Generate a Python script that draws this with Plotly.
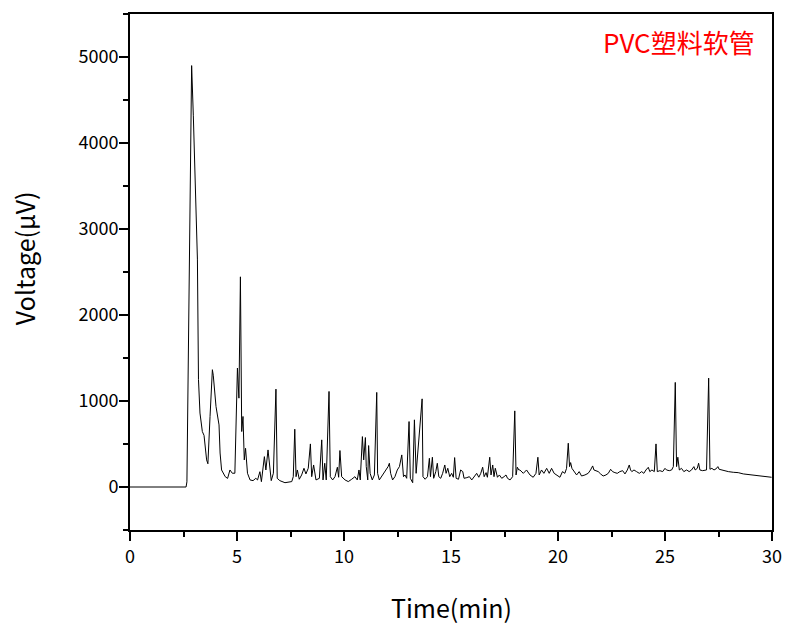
import plotly.graph_objects as go

# 保留时间 (min) 和 信号 (µV)
t_a = [0, 2.62, 2.66, 2.88, 2.96, 3.07, 3.15, 3.20, 3.27, 3.38, 3.46, 3.58, 3.64, 3.74, 3.85, 3.89,
       4.02, 4.16, 4.21, 4.28, 4.45, 4.56, 4.67, 4.78, 4.90, 5.02, 5.09, 5.16, 5.22, 5.28, 5.34, 5.40,
       5.49, 5.61, 5.75, 5.88, 5.96, 6.07, 6.14, 6.28, 6.35, 6.45, 6.52, 6.60, 6.70, 6.82, 6.88, 7.00]
v_a = [0, 0, 60, 4900, 4316, 3345, 2650, 1250, 860, 645, 600, 315, 270, 820, 1364, 1300,
       935, 722, 395, 198, 120, 100, 198, 160, 160, 1383, 1033, 2444, 645, 820, 315, 450,
       160, 82, 74, 101, 82, 178, 62, 353, 198, 431, 237, 74, 160, 1138, 101, 74]

t_b = [7.24, 7.56, 7.63, 7.70, 7.76, 7.82, 7.91, 8.02, 8.13, 8.22, 8.33, 8.43, 8.49, 8.58, 8.69, 8.85,
       8.96, 9.02, 9.10, 9.17, 9.30, 9.36, 9.47, 9.58, 9.69, 9.75, 9.81, 9.89, 10.05, 10.20, 10.36, 10.51,
       10.62, 10.70, 10.76, 10.86, 10.92, 11.00, 11.04, 11.11, 11.15, 11.22, 11.32, 11.42, 11.53, 11.57,
       11.65, 11.76, 11.87, 11.96, 12.06, 12.12, 12.18, 12.27, 12.38, 12.49, 12.59]
v_b = [50, 63, 120, 672, 120, 198, 90, 140, 218, 152, 218, 501, 120, 256, 82, 101,
       548, 82, 276, 82, 1111, 120, 82, 120, 230, 113, 424, 120, 82, 63, 90, 120,
       82, 198, 82, 586, 315, 575, 237, 82, 482, 159, 82, 140, 1100, 159,
       82, 120, 159, 198, 237, 276, 159, 82, 120, 198, 237]

t_c = [12.70, 12.78, 12.85, 12.93, 13.04, 13.10, 13.21, 13.29, 13.37, 13.65, 13.69, 13.79, 13.90, 13.99,
       14.04, 14.13, 14.19, 14.29, 14.36, 14.43, 14.52, 14.61, 14.71, 14.77, 14.85, 14.94, 15.03, 15.11,
       15.17, 15.24, 15.35, 15.45, 15.55, 15.61, 15.74, 15.86, 15.97, 16.08, 16.20, 16.30, 16.39, 16.48,
       16.55, 16.64, 16.70, 16.81, 16.87, 16.95, 17.01, 17.07, 17.17, 17.26, 17.37, 17.48, 17.57, 17.64,
       17.76, 17.88, 17.98, 18.04, 18.10, 18.17]
v_c = [373, 120, 140, 101, 761, 101, 50, 781, 159, 1025, 120, 90, 120, 334,
       120, 346, 101, 179, 276, 120, 101, 159, 256, 159, 218, 120, 159, 113,
       342, 101, 90, 198, 179, 101, 109, 120, 82, 113, 159, 113, 159, 230,
       120, 167, 113, 346, 140, 256, 120, 218, 113, 140, 101, 120, 140, 101,
       82, 120, 885, 140, 230, 198]

t_d = [18.22, 18.38, 18.53, 18.69, 18.84, 18.97, 19.06, 19.12, 19.23, 19.34, 19.47, 19.59, 19.70, 19.82,
       19.96, 20.09, 20.21, 20.32, 20.40, 20.48, 20.54, 20.59, 20.65, 20.74, 20.87, 20.99, 21.10, 21.26,
       21.41, 21.52, 21.62, 21.68, 21.77, 21.88, 21.99, 22.11, 22.24, 22.35, 22.46, 22.55, 22.66, 22.77,
       22.89, 23.02, 23.13, 23.24, 23.33, 23.39, 23.45, 23.55, 23.67, 23.80, 23.91, 24.01, 24.11, 24.22,
       24.29, 24.39, 24.50, 24.58, 24.64, 24.76, 24.89, 25.00, 25.07, 25.20, 25.31, 25.39, 25.48, 25.54,
       25.60, 25.67, 25.77, 25.88, 26.01, 26.13, 26.24, 26.35, 26.41, 26.51, 26.57, 26.63, 26.76, 26.86,
       26.94, 27.04, 27.10, 27.19, 27.29, 27.38, 27.47, 27.53, 27.64, 27.80, 27.96, 28.19, 28.42, 28.66,
       28.97, 29.28, 29.59, 29.98]
v_d = [198, 159, 198, 140, 113, 159, 346, 140, 198, 159, 217, 159, 217, 159,
       140, 113, 179, 159, 217, 509, 237, 284, 217, 179, 140, 179, 128, 140,
       159, 198, 245, 198, 190, 179, 152, 128, 140, 159, 206, 179, 167, 159,
       179, 190, 152, 198, 256, 198, 179, 198, 179, 159, 179, 159, 198, 229,
       179, 198, 179, 501, 179, 190, 179, 217, 198, 190, 198, 237, 1216, 237,
       346, 198, 217, 179, 198, 179, 198, 237, 198, 217, 276, 198, 190, 198,
       198, 1266, 206, 217, 198, 210, 237, 206, 198, 190, 179, 171, 167, 152,
       144, 132, 128, 113]

time = t_a + t_b + t_c + t_d
voltage = v_a + v_b + v_c + v_d

font_name = "Noto Sans CJK SC"

fig = go.Figure()
fig.add_trace(go.Scatter(x=time, y=voltage, mode="lines",
                         line=dict(color="black", width=1), showlegend=False))

axis_common = dict(showline=True, linecolor="black", linewidth=2, mirror=True,
                   showgrid=False, zeroline=False, ticks="outside", ticklen=9,
                   tickwidth=1.5, tickcolor="black", automargin=False,
                   tickfont=dict(family=font_name, size=18, color="black"))

fig.update_xaxes(range=[0, 30], dtick=5,
                 minor=dict(ticks="outside", dtick=2.5, ticklen=5, tickcolor="black", showgrid=False),
                 **axis_common)
fig.update_yaxes(range=[-500, 5500], dtick=1000, ticklabelstandoff=-3,
                 minor=dict(ticks="outside", dtick=500, ticklen=5, tickcolor="black", showgrid=False),
                 **axis_common)

# 坐标轴标题用注释放置
fig.add_annotation(text="Time(min)", xref="paper", yref="paper", x=0.5, y=-0.150,
                   xanchor="center", yanchor="middle", showarrow=False,
                   font=dict(family=font_name, size=25, color="black"))
fig.add_annotation(text="Voltage(µV)", xref="paper", yref="paper", x=-0.165, y=0.527,
                   xanchor="center", yanchor="middle", showarrow=False, textangle=-90,
                   font=dict(family=font_name, size=25, color="black"))

fig.add_annotation(text="PVC塑料软管", xref="paper", yref="paper", x=0.977, y=0.946,
                   xanchor="right", yanchor="middle", showarrow=False,
                   font=dict(family=font_name, size=26, color="red"))

fig.update_layout(width=786, height=624, plot_bgcolor="white", paper_bgcolor="white",
                  margin=dict(l=130, r=14, t=14, b=94, autoexpand=False),
                  font=dict(family=font_name))

# 去掉页面默认边距, 图正好占满窗口
fig.write_html("out.html", config={"displayModeBar": False},
               post_script="document.body.style.margin='0';")
